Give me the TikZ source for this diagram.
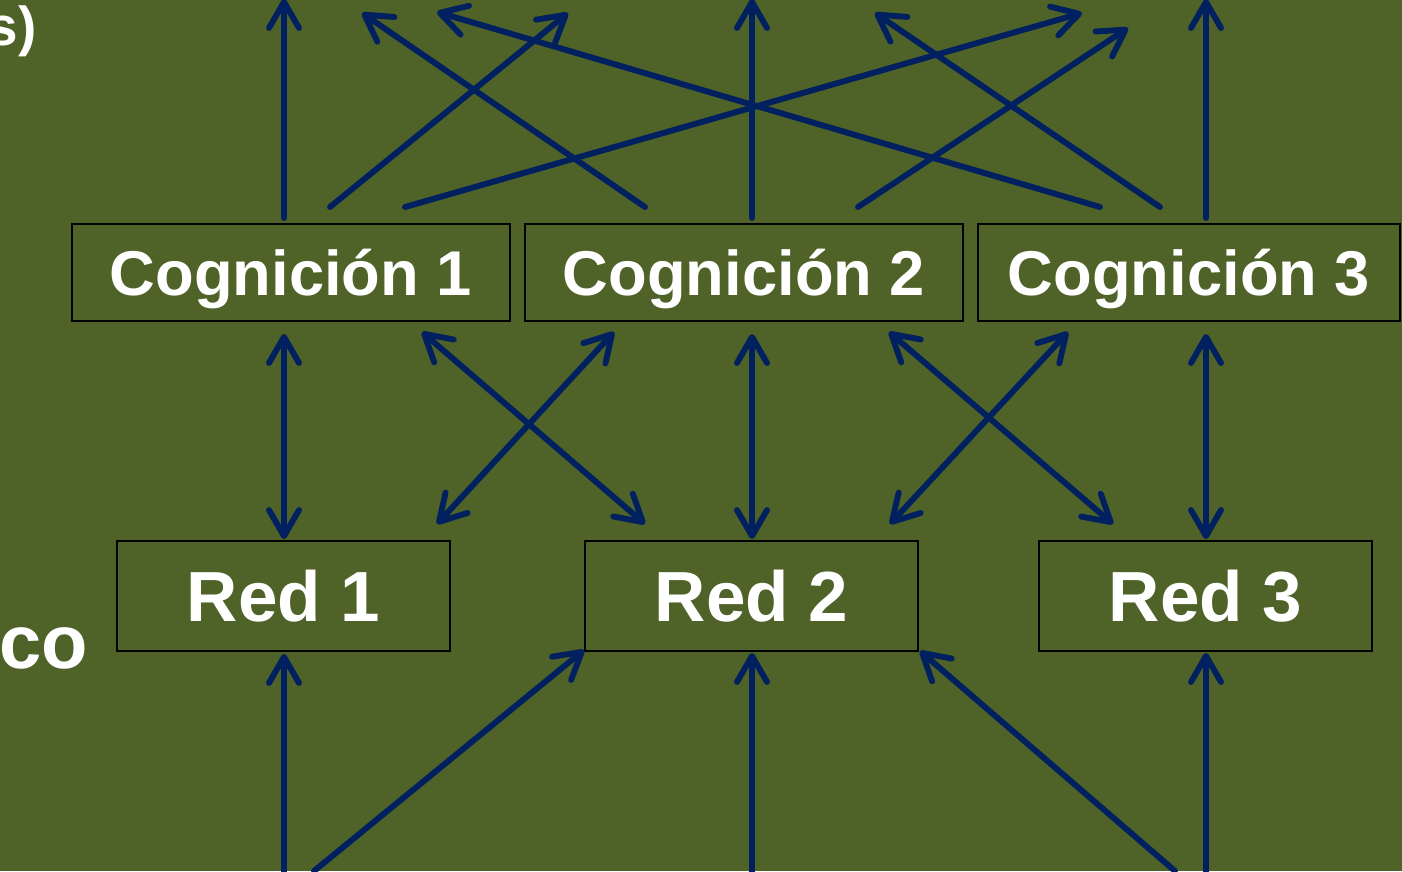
\documentclass[tikz,border=0pt]{standalone}
\usepackage{fontspec}
\setmainfont{Liberation Sans}
\usetikzlibrary{arrows.meta, calc}

\definecolor{fondo}{HTML}{4F6228}
\definecolor{azul}{HTML}{002060}

\tikzset{
	caja/.style={draw=black, line width=1.4pt, text=white, inner sep=0pt, text depth=0pt},
	cogcaja/.style={caja, font=\bfseries\fontsize{45}{50}\selectfont, text height=32.2pt, minimum width=10.95cm, minimum height=2.425cm},
	redcaja/.style={caja, font=\bfseries\fontsize{50.5}{55}\selectfont, text height=36pt, minimum width=8.325cm, minimum height=2.75cm},
	punta/.tip={Straight Barb[round, length=6.5mm, width=7.5mm]},
	flecha/.style={draw=azul, line width=4.2pt, line cap=round, -punta},
	doble/.style={flecha, punta-punta},
	resto/.style={inner sep=0pt, text=white, anchor=base east},
}

\begin{document}
\begin{tikzpicture}[x=0.025cm, y=-0.025cm]
		\fill[fondo] (0,0) rectangle (1402,871); % fondo
		\useasboundingbox (0,0) rectangle (1402,871);
		\clip (0,0) rectangle (1402,871);
		
		% textos cortados por el borde
		\node[resto, font=\bfseries\fontsize{39}{44}\selectfont] (texta) at (37,45) {s)};
		\node[resto, font=\bfseries\fontsize{54}{60}\selectfont] (textb) at (88,668) {co};
		
		% cajas
		\node[cogcaja] (c1) at (291,272.5) {Cognición 1};
		\node[cogcaja] (c2) at (744,272.5) {Cognición 2};
		\node[cogcaja, minimum width=10.55cm] (c3) at (1189,272.5) {Cognición 3};
		\node[redcaja] (r1) at (283.5,596) {Red 1};
		\node[redcaja] (r2) at (751.5,596) {Red 2};
		\node[redcaja] (r3) at (1205.5,596) {Red 3};
		
		% extremos libres arriba y abajo
		\coordinate (s1) at (284,-1);
		\coordinate (s2) at (568,13);
		\coordinate (s3) at (1082,13);
		\coordinate (s4) at (362,13);
		\coordinate (s5) at (752,-1);
		\coordinate (s6) at (1128,28);
		\coordinate (s7) at (437,12);
		\coordinate (s8) at (875,13);
		\coordinate (s9) at (1206,-1);
		\coordinate (b1) at (284,874);
		\coordinate (b2) at (314,871);
		\coordinate (b3) at (752,874);
		\coordinate (b4) at (1175,871);
		\coordinate (b5) at (1206,874);
		
		% hacia arriba
		\draw[flecha] ($(c1.north)+(-7,-5)$) -- (s1);
		\draw[flecha] ($(c1.north)+(39,-16)$) -- (s2);
		\draw[flecha] ($(c1.north)+(114,-16)$) -- (s3);
		\draw[flecha] ($(c2.north)+(-99,-16)$) -- (s4);
		\draw[flecha] ($(c2.north)+(8,-5)$) -- (s5);
		\draw[flecha] ($(c2.north)+(114,-16)$) -- (s6);
		\draw[flecha] ($(c3.north)+(-89,-16)$) -- (s7);
		\draw[flecha] ($(c3.north)+(-29,-16)$) -- (s8);
		\draw[flecha] ($(c3.north)+(17,-5)$) -- (s9);
		
		% entre cognicion y red
		\draw[doble] ($(c1.south)+(-7,12)$) -- ($(r1.north)+(0.5,-1)$);
		\draw[doble] ($(c1.south)+(131,10)$) -- ($(r2.north)+(-106.5,-16)$);
		\draw[doble] ($(c2.south)+(-130,10)$) -- ($(r1.north)+(153.5,-16)$);
		\draw[doble] ($(c2.south)+(8,12)$) -- ($(r2.north)+(0.5,-1)$);
		\draw[doble] ($(c2.south)+(145,10)$) -- ($(r3.north)+(-92.5,-16)$);
		\draw[doble] ($(c3.south)+(-121,10)$) -- ($(r2.north)+(138.5,-16)$);
		\draw[doble] ($(c3.south)+(17,12)$) -- ($(r3.north)+(0.5,-1)$);
		
		% desde abajo
		\draw[flecha] (b1) -- ($(r1.south)+(0.5,2)$);
		\draw[flecha] (b2) -- ($(r2.south)+(-167.5,-2)$);
		\draw[flecha] (b3) -- ($(r2.south)+(0.5,1)$);
		\draw[flecha] (b4) -- ($(r2.south)+(168.5,-1)$);
		\draw[flecha] (b5) -- ($(r3.south)+(0.5,1)$);
	\end{tikzpicture}
\end{document}
